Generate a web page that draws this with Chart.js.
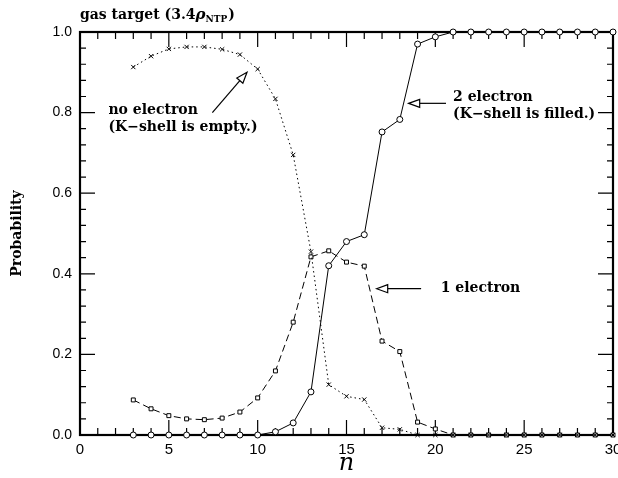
<!DOCTYPE html>
<html>
<head>
<meta charset="utf-8">
<script src="https://cdn.jsdelivr.net/npm/chart.js@4/dist/chart.umd.min.js"></script>
<style>
  html, body { margin: 0; background: #fff; }
  #wrap { width: 618px; height: 478px; position: relative; }
</style>
</head>
<body>
<div id="wrap"><canvas id="chart"></canvas></div>
<script>
// values, n = 3 .. 30
const nValues = [3, 4, 5, 6, 7, 8, 9, 10, 11, 12, 13, 14, 15, 16, 17, 18, 19, 20, 21, 22, 23, 24, 25, 26, 27, 28, 29, 30];
const noElectron = [0.913, 0.940, 0.958, 0.963, 0.963, 0.957, 0.944, 0.908, 0.834, 0.695, 0.455, 0.125, 0.096, 0.088, 0.018, 0.014, 0, 0, 0, 0, 0, 0, 0, 0, 0, 0, 0, 0];
const oneElectron = [0.087, 0.065, 0.048, 0.040, 0.038, 0.042, 0.057, 0.092, 0.159, 0.280, 0.442, 0.457, 0.429, 0.419, 0.233, 0.207, 0.032, 0.015, 0, 0, 0, 0, 0, 0, 0, 0, 0, 0];
const twoElectron = [0, 0, 0, 0, 0, 0, 0, 0, 0.008, 0.030, 0.107, 0.420, 0.480, 0.497, 0.752, 0.783, 0.970, 0.988, 1, 1, 1, 1, 1, 1, 1, 1, 1, 1];

const xRange = [0, 30];
const yRange = [0, 1];
const xMajor = 5, xMinor = 1;
const yMajor = 0.2, yMinor = 0.04;

const serif = '"DejaVu Serif", "Liberation Serif", serif';
const sans = '"Liberation Sans", Arial, sans-serif';

function pts(ys) {
  return nValues.map((n, i) => ({ x: n, y: ys[i] }));
}

// labels + arrows, placed in data units
const notes = [
  { lines: ['no electron', '(K\u2212shell is empty.)'], x: 1.6, y: 0.805, tail: [7.45, 0.80], tip: [9.4, 0.9] },
  { lines: ['2 electron', '(K\u2212shell is filled.)'], x: 21.0, y: 0.838, tail: [20.6, 0.823], tip: [18.5, 0.823] },
  { lines: ['1 electron'], x: 20.3, y: 0.363, tail: [19.2, 0.363], tip: [16.7, 0.363] },
];

function arrow(ctx, x0, y0, x1, y1) {
  const a = Math.atan2(y1 - y0, x1 - x0);
  const len = 11, hw = 4;
  const bx = x1 - len * Math.cos(a), by = y1 - len * Math.sin(a);
  ctx.beginPath();
  ctx.moveTo(x0, y0);
  ctx.lineTo(bx, by);
  ctx.stroke();
  ctx.beginPath();
  ctx.moveTo(x1, y1);
  ctx.lineTo(bx + hw * Math.sin(a), by - hw * Math.cos(a));
  ctx.lineTo(bx - hw * Math.sin(a), by + hw * Math.cos(a));
  ctx.closePath();
  ctx.fillStyle = '#fff';
  ctx.fill();
  ctx.stroke();
}

const framePlugin = {
  id: 'frame',
  beforeDatasetsDraw(chart) {
    const { ctx, chartArea: a, scales } = chart;
    const xs = scales.x, ys = scales.y;
    ctx.save();
    ctx.strokeStyle = '#000';
    // minor / major ticks on all four sides, pointing inward
    ctx.lineWidth = 1.2;
    ctx.beginPath();
    for (let v = xRange[0]; v <= xRange[1] + 1e-9; v += xMinor) {
      const px = xs.getPixelForValue(v);
      const L = Math.abs(v / xMajor - Math.round(v / xMajor)) < 1e-6 ? 15 : 7;
      ctx.moveTo(px, a.bottom); ctx.lineTo(px, a.bottom - L);
      ctx.moveTo(px, a.top); ctx.lineTo(px, a.top + L);
    }
    for (let k = 0; k <= Math.round((yRange[1] - yRange[0]) / yMinor); k++) {
      const v = yRange[0] + k * yMinor;
      const py = ys.getPixelForValue(v);
      const L = Math.abs(v / yMajor - Math.round(v / yMajor)) < 1e-6 ? 15 : 6;
      ctx.moveTo(a.left, py); ctx.lineTo(a.left + L, py);
      ctx.moveTo(a.right, py); ctx.lineTo(a.right - L, py);
    }
    ctx.stroke();
    ctx.lineWidth = 2.2;
    ctx.strokeRect(a.left, a.top, a.right - a.left, a.bottom - a.top);

    // annotations
    ctx.lineWidth = 1.2;
    ctx.fillStyle = '#000';
    ctx.font = 'bold 14px ' + serif;
    ctx.textBaseline = 'middle';
    ctx.textAlign = 'left';
    notes.forEach(nt => {
      const x = xs.getPixelForValue(nt.x);
      const y = ys.getPixelForValue(nt.y);
      ctx.fillStyle = '#000';
      nt.lines.forEach((s, i) => ctx.fillText(s, x, y + i * 17));
      arrow(ctx, xs.getPixelForValue(nt.tail[0]), ys.getPixelForValue(nt.tail[1]),
                 xs.getPixelForValue(nt.tip[0]), ys.getPixelForValue(nt.tip[1]));
    });

    // title
    ctx.fillStyle = '#000';
    ctx.font = 'bold 14px ' + serif;
    ctx.textBaseline = 'alphabetic';
    const t1 = 'gas target (3.4';
    let tx = a.left, ty = 19;
    ctx.fillText(t1, tx, ty);
    tx += ctx.measureText(t1).width;
    ctx.font = 'bold italic 15px ' + serif;
    ctx.fillText('\u03c1', tx, ty);
    tx += ctx.measureText('\u03c1').width;
    ctx.font = 'bold 9px ' + serif;
    ctx.fillText('NTP', tx, ty + 3);
    tx += ctx.measureText('NTP').width + 1;
    ctx.font = 'bold 14px ' + serif;
    ctx.fillText(')', tx, ty);

    // axis titles
    ctx.font = 'italic 24px ' + serif;
    ctx.textAlign = 'center';
    ctx.fillText('n', (a.left + a.right) / 2, 470);
    ctx.save();
    ctx.translate(17, (a.top + a.bottom) / 2);
    ctx.rotate(-Math.PI / 2);
    ctx.font = 'bold 14px ' + serif;
    ctx.textBaseline = 'middle';
    ctx.fillText('Probability', 0, 0);
    ctx.restore();
    ctx.restore();
  },
};

const base = {
  borderColor: '#000',
  borderWidth: 1,
  pointBorderColor: '#000',
  pointBackgroundColor: '#fff',
  pointBorderWidth: 1,
  showLine: true,
  tension: 0,
  clip: false,
};

new Chart(document.getElementById('chart'), {
  type: 'scatter',
  data: {
    datasets: [
      { ...base, label: 'no electron', data: pts(noElectron), borderDash: [1.5, 3], pointStyle: 'crossRot', pointRadius: 3 },
      { ...base, label: '1 electron', data: pts(oneElectron), borderDash: [7, 4], pointStyle: 'rect', pointRadius: 2.8 },
      { ...base, label: '2 electron', data: pts(twoElectron), pointStyle: 'circle', pointRadius: 3 },
    ],
  },
  options: {
    responsive: true,
    maintainAspectRatio: false,
    animation: false,
    events: [],
    layout: { padding: { top: 32, right: 4, left: 0, bottom: 0 } },
    plugins: { legend: { display: false }, tooltip: { enabled: false } },
    scales: {
      x: {
        type: 'linear', min: xRange[0], max: xRange[1],
        grid: { display: false, drawTicks: false },
        border: { display: false },
        ticks: { stepSize: xMajor, padding: 6, color: '#000', font: { family: sans, size: 15 }, maxRotation: 0 },
        afterFit(s) { s.height = 43; s.paddingLeft = 0; s.paddingRight = 0; },
      },
      y: {
        type: 'linear', min: yRange[0], max: yRange[1],
        grid: { display: false, drawTicks: false },
        border: { display: false },
        ticks: { stepSize: yMajor, padding: 8, color: '#000', font: { family: sans, size: 14 },
                 callback: v => v.toFixed(1) },
        afterFit(s) { s.width = 80; s.paddingTop = 0; s.paddingBottom = 0; },
      },
    },
  },
  plugins: [framePlugin],
});
</script>
</body>
</html>
